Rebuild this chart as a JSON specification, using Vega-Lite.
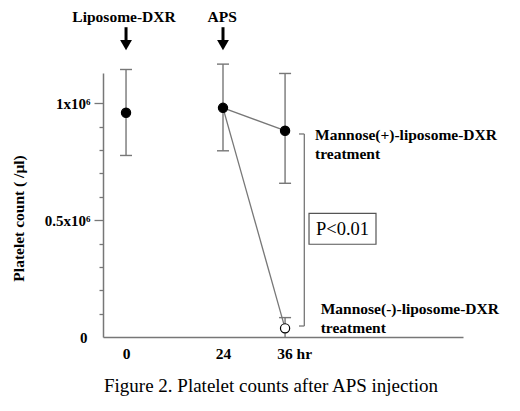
{
  "$schema": "https://vega.github.io/schema/vega-lite/v6.json",
  "width": 360,
  "height": 264,
  "autosize": "none",
  "padding": {"left": 103, "top": 73, "right": 57, "bottom": 74},
  "background": "white",
  "config": {"view": {"stroke": null}, "font": "Liberation Serif"},
  "datasets": {
    "counts": [
      {"hour": 0, "count": 960000, "low": 777000, "high": 1145000, "treatment": "before treatment"},
      {"hour": 24, "count": 981000, "low": 797000, "high": 1168000, "treatment": "before treatment"},
      {"hour": 36, "count": 883000, "low": 658000, "high": 1128000, "treatment": "Mannose(+)-liposome-DXR"},
      {"hour": 36, "count": 37000, "low": 0, "high": 83000, "treatment": "Mannose(-)-liposome-DXR"}
    ],
    "trend": [
      {"hour": 24, "count": 981000, "treatment": "Mannose(+)-liposome-DXR"},
      {"hour": 36, "count": 883000, "treatment": "Mannose(+)-liposome-DXR"},
      {"hour": 24, "count": 981000, "treatment": "Mannose(-)-liposome-DXR"},
      {"hour": 36, "count": 37000, "treatment": "Mannose(-)-liposome-DXR"}
    ]
  },
  "resolve": {"axis": {"y": "independent"}},
  "layer": [
    {
      "layer": [
        {
          "data": {"name": "counts"},
          "mark": {"type": "rule", "color": "#777777", "strokeWidth": 1.4},
          "encoding": {
            "x": {
              "field": "hour", "type": "quantitative",
              "scale": {"domain": [-5.7, 24, 70.4], "range": [0, 120, 360], "nice": false, "zero": false},
              "axis": {
                "values": [0, 24, 36],
                "labelExpr": "datum.value == 36 ? '36 hr' : datum.label",
                "ticks": false,
                "grid": false,
                "domainColor": "#777777",
                "domainWidth": 1.5,
                "labelFont": "Liberation Serif",
                "labelFontWeight": "bold",
                "labelFontSize": 15.5,
                "labelColor": "black",
                "labelPadding": 9,
                "labelAlign": "center",
                "labelOffset": {"condition": {"test": "datum.value == 36", "value": 9}, "value": 0},
                "labelFlush": false,
                "labelOverlap": false,
                "title": null
              }
            },
            "y": {
              "field": "low", "type": "quantitative",
              "scale": {"domain": [0, 1130000], "nice": false, "zero": false},
              "axis": {
                "orient": "left",
                "values": [500000, 1000000],
                "labelExpr": "datum.value == 500000 ? '0.5x10⁶' : '1x10⁶'",
                "tickSize": 9,
                "tickColor": "#777777",
                "tickWidth": 1.3,
                "grid": false,
                "domainColor": "#777777",
                "domainWidth": 1.5,
                "labelFont": "Liberation Serif",
                "labelFontWeight": "bold",
                "labelFontSize": 15,
                "labelColor": "black",
                "labelPadding": 4,
                "labelOverlap": false,
                "title": "Platelet count ( /μl)",
                "titleFont": "Liberation Serif",
                "titleFontWeight": "bold",
                "titleFontSize": 15.5,
                "titleColor": "black",
                "titleAngle": -90,
                "titleX": -85,
                "titleY": 145,
                "titleAlign": "center",
                "titleBaseline": "middle"
              }
            },
            "y2": {"field": "high"}
          }
        },
        {
          "data": {"name": "counts"},
          "mark": {"type": "tick", "orient": "horizontal", "size": 12, "thickness": 1.4, "color": "#777777", "opacity": 1},
          "encoding": {
            "x": {"field": "hour", "type": "quantitative"},
            "y": {"field": "high", "type": "quantitative"}
          }
        },
        {
          "data": {"name": "counts"},
          "transform": [{"filter": "datum.low > 0"}],
          "mark": {"type": "tick", "orient": "horizontal", "size": 12, "thickness": 1.4, "color": "#777777", "opacity": 1},
          "encoding": {
            "x": {"field": "hour", "type": "quantitative"},
            "y": {"field": "low", "type": "quantitative"}
          }
        },
        {
          "data": {"name": "trend"},
          "mark": {"type": "line", "color": "#777777", "strokeWidth": 1.3},
          "encoding": {
            "x": {"field": "hour", "type": "quantitative"},
            "y": {"field": "count", "type": "quantitative"},
            "detail": {"field": "treatment", "type": "nominal"}
          }
        },
        {
          "data": {"name": "counts"},
          "mark": {"type": "circle", "stroke": "black", "strokeWidth": 1.2, "size": 85, "opacity": 1},
          "encoding": {
            "x": {"field": "hour", "type": "quantitative"},
            "y": {"field": "count", "type": "quantitative"},
            "fill": {
              "field": "treatment", "type": "nominal",
              "scale": {"domain": ["before treatment", "Mannose(+)-liposome-DXR", "Mannose(-)-liposome-DXR"], "range": ["black", "black", "white"]},
              "legend": null
            }
          }
        },
        {
          "data": {"values": [{"event": "Liposome-DXR", "hour": 0}, {"event": "APS", "hour": 24}]},
          "mark": {"type": "rule", "color": "black", "strokeWidth": 3},
          "encoding": {
            "x": {"field": "hour", "type": "quantitative"},
            "y": {"datum": 1326000, "type": "quantitative"},
            "y2": {"datum": 1267000}
          }
        },
        {
          "data": {"values": [{"event": "Liposome-DXR", "hour": 0}, {"event": "APS", "hour": 24}]},
          "mark": {"type": "point", "shape": "triangle-down", "filled": true, "color": "black", "size": 140, "opacity": 1},
          "encoding": {
            "x": {"field": "hour", "type": "quantitative"},
            "y": {"datum": 1249000, "type": "quantitative"}
          }
        },
        {
          "data": {"values": [{"event": "Liposome-DXR", "hour": -0.5}, {"event": "APS", "hour": 23.8}]},
          "mark": {"type": "text", "font": "Liberation Serif", "fontWeight": "bold", "fontSize": 15.5, "color": "black", "align": "center", "baseline": "middle"},
          "encoding": {
            "x": {"field": "hour", "type": "quantitative"},
            "y": {"datum": 1369000, "type": "quantitative"},
            "text": {"field": "event"}
          }
        },
        {
          "data": {"values": [{}]},
          "mark": {"type": "rule", "color": "#777777", "strokeWidth": 1.3},
          "encoding": {
            "x": {"datum": 39.72, "type": "quantitative"},
            "y": {"datum": 869000, "type": "quantitative"},
            "y2": {"datum": 47000}
          }
        },
        {
          "data": {"values": [{"end": 869000}, {"end": 47000}]},
          "mark": {"type": "rule", "color": "#777777", "strokeWidth": 1.3},
          "encoding": {
            "x": {"datum": 38.69, "type": "quantitative"},
            "x2": {"datum": 39.72},
            "y": {"field": "end", "type": "quantitative"}
          }
        },
        {
          "data": {"values": [{}]},
          "mark": {"type": "rect", "fill": "transparent", "stroke": "#555555", "strokeWidth": 1.2},
          "encoding": {
            "x": {"datum": 40.63, "type": "quantitative"},
            "x2": {"datum": 53.58},
            "y": {"datum": 529000, "type": "quantitative"},
            "y2": {"datum": 397000}
          }
        },
        {
          "data": {"values": [{"note": "P<0.01"}]},
          "mark": {"type": "text", "font": "Liberation Serif", "fontSize": 18.5, "color": "black", "align": "center", "baseline": "middle"},
          "encoding": {
            "x": {"datum": 47.1, "type": "quantitative"},
            "y": {"datum": 462000, "type": "quantitative"},
            "text": {"field": "note"}
          }
        },
        {
          "data": {"values": [{"note": "Mannose(+)-liposome-DXR"}]},
          "mark": {"type": "text", "font": "Liberation Serif", "fontWeight": "bold", "fontSize": 15.5, "color": "black", "align": "left", "baseline": "middle"},
          "encoding": {
            "x": {"datum": 41.79, "type": "quantitative"},
            "y": {"datum": 864000, "type": "quantitative"},
            "text": {"field": "note"}
          }
        },
        {
          "data": {"values": [{"note": "treatment"}]},
          "mark": {"type": "text", "font": "Liberation Serif", "fontWeight": "bold", "fontSize": 15.5, "color": "black", "align": "left", "baseline": "middle"},
          "encoding": {
            "x": {"datum": 41.79, "type": "quantitative"},
            "y": {"datum": 783000, "type": "quantitative"},
            "text": {"field": "note"}
          }
        },
        {
          "data": {"values": [{"note": "Mannose(-)-liposome-DXR"}]},
          "mark": {"type": "text", "font": "Liberation Serif", "fontWeight": "bold", "fontSize": 15.5, "color": "black", "align": "left", "baseline": "middle"},
          "encoding": {
            "x": {"datum": 42.89, "type": "quantitative"},
            "y": {"datum": 120000, "type": "quantitative"},
            "text": {"field": "note"}
          }
        },
        {
          "data": {"values": [{"note": "treatment"}]},
          "mark": {"type": "text", "font": "Liberation Serif", "fontWeight": "bold", "fontSize": 15.5, "color": "black", "align": "left", "baseline": "middle"},
          "encoding": {
            "x": {"datum": 42.89, "type": "quantitative"},
            "y": {"datum": 39000, "type": "quantitative"},
            "text": {"field": "note"}
          }
        },
        {
          "data": {"values": [{"note": "Figure 2. Platelet counts after APS injection"}]},
          "mark": {"type": "text", "font": "Liberation Serif", "fontSize": 19, "color": "black", "align": "center", "baseline": "middle"},
          "encoding": {
            "x": {"datum": 33.28, "type": "quantitative"},
            "y": {"datum": -210000, "type": "quantitative"},
            "text": {"field": "note"}
          }
        }
      ]
    },
    {
      "data": {"values": [{}]},
      "mark": {"type": "rule", "opacity": 0},
      "encoding": {
        "y": {
          "datum": 0, "type": "quantitative",
          "axis": {
            "orient": "left",
            "values": [100000, 200000, 300000, 400000, 600000, 700000, 800000, 900000],
            "labels": false,
            "domain": false,
            "grid": false,
            "tickSize": 4,
            "tickColor": "#777777",
            "tickWidth": 1.3,
            "title": null
          }
        }
      }
    },
    {
      "data": {"values": [{}]},
      "mark": {"type": "rule", "opacity": 0},
      "encoding": {
        "y": {
          "datum": 0, "type": "quantitative",
          "axis": {
            "orient": "left",
            "values": [0],
            "labelExpr": "'0'",
            "ticks": false,
            "domain": false,
            "grid": false,
            "labelFont": "Liberation Serif",
            "labelFontWeight": "bold",
            "labelFontSize": 15,
            "labelColor": "black",
            "labelPadding": 16,
            "title": null
          }
        }
      }
    }
  ]
}
